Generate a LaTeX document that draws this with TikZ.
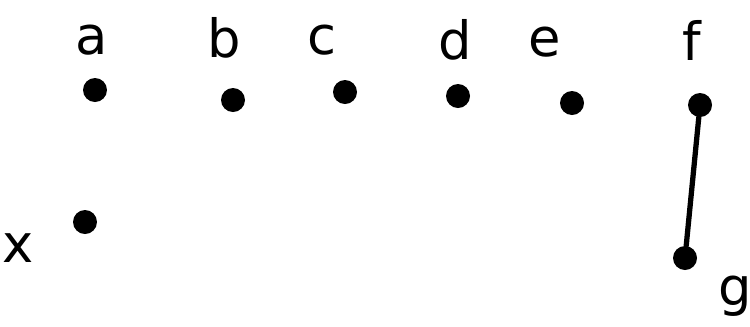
\documentclass[tikz,border=0pt]{standalone}
\usepackage{fontspec}
\setmainfont{DejaVu Sans}
\usetikzlibrary{positioning}

\begin{document}
\begin{tikzpicture}[
    x=0.02cm, y=-0.02cm,
    dot/.style={circle, fill=black, inner sep=0pt, minimum size=4.8mm},
    lbl/.style={font=\fontsize{30}{34}\selectfont, inner sep=0pt},
    edge/.style={line width=3pt, line cap=round},
]
\useasboundingbox (0,0) rectangle (750,326);
% ---- top row of dots ----
\node[dot] (a) at (95, 90)  {};
\node[dot] (b) at (233, 100) {};
\node[dot] (c) at (345, 92) {};
\node[dot] (d) at (458, 96) {};
\node[dot] (e) at (572, 103) {};
\node[dot] (f) at (700, 105) {};
% ---- lower dots ----
\node[dot] (x) at (85, 222) {};
\node[dot] (g) at (685, 258) {};

% ---- labels ----
\node[lbl] (la) at (92, 40)  {a};
\node[lbl] (lb) at (224, 38) {b};
\node[lbl] (lc) at (322, 40) {c};
\node[lbl] (ld) at (455, 40) {d};
\node[lbl] (le) at (545, 42) {e};
\node[lbl] (lf) at (692, 40) {f};
\node[lbl] (lx) at (18, 248) {x};
\node[lbl] (lg) at (735, 296) {g};

% ---- the one edge ----
\draw[edge] (f) -- (g);
\end{tikzpicture}
\end{document}
